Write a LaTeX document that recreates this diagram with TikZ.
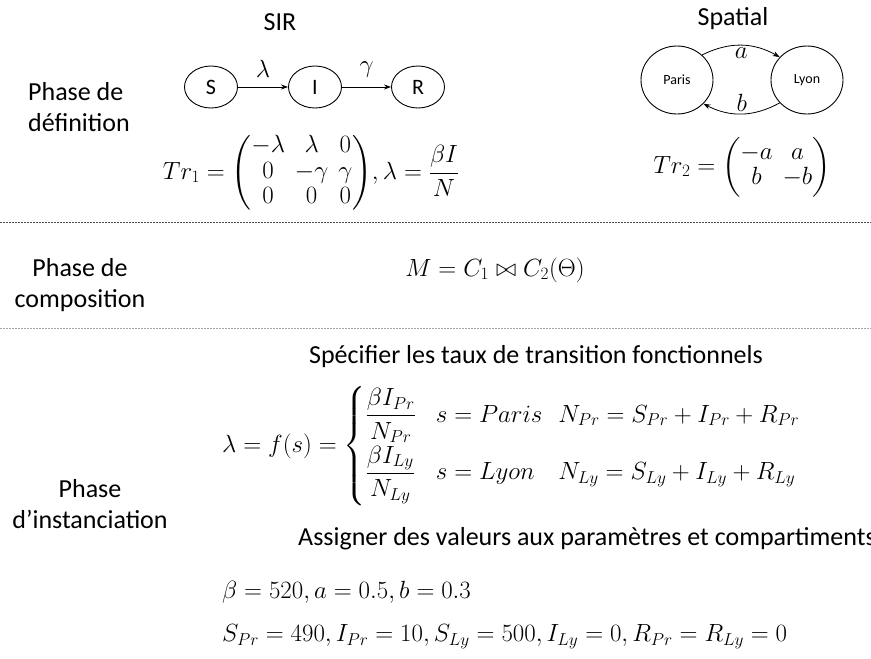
\documentclass[tikz,border=0pt]{standalone}
\usepackage{amsmath}
\usepackage{fontspec}
\setmainfont{Carlito}
\usetikzlibrary{arrows.meta,shapes.geometric}
\begin{document}
\begin{tikzpicture}[x=1pt,y=-1pt,
  txt/.style={font=\fontsize{26}{31}\selectfont, inner sep=0pt},
  ttl/.style={font=\fontsize{26}{31}\selectfont, inner sep=0pt},
  mth/.style={font=\fontsize{26}{25.5}\selectfont, inner sep=0pt},
  state/.style={ellipse, draw, line width=0.9pt, minimum width=53pt, minimum height=42pt, font=\fontsize{22}{26}\selectfont, inner sep=0pt},
  city/.style={ellipse, draw, line width=0.9pt, minimum width=72pt, minimum height=68pt, font=\fontsize{14}{16}\selectfont, inner sep=0pt},
  arr/.style={-{Stealth[length=7pt,width=5pt]}, line width=0.8pt},
  sep/.style={dash pattern=on 2pt off 1pt, line width=0.6pt}]
\useasboundingbox (0,0) rectangle (871,659);
% titles
\node[ttl] (sir) at (280,22) {SIR};
\node[ttl] (spatial) at (733,19) {Spatial};
% phase labels
\node[txt, anchor=west, align=left] (pdef) at (28,107) {Phase de\\définition};
\node[txt, align=center] (pcomp) at (80,285) {Phase de\\composition};
\node[txt, align=center] (pinst) at (90,504) {Phase\\d’instanciation};
% SIR chain
\node[state] (S) at (211,87) {S};
\node[state] (I) at (315,87) {I};
\node[state] (R) at (418,87) {R};
\draw[arr] (S) -- node[mth, above=9pt] (lam) {$\lambda$} (I);
\draw[arr] (I) -- node[mth, above=9pt] (gam) {$\gamma$} (R);
% spatial
\node[city] (paris) at (677,80) {Paris};
\node[city] (lyon) at (807,80) {Lyon};
\draw[arr] (paris.45) to[bend left=28] node[mth, below=2pt] (la) {$a$} (lyon.140);
\draw[arr] (lyon.220) to[bend left=28] node[mth, above=2pt] (lb) {$b$} (paris.318);
% matrices
\node[mth] (tr1) at (311,173) {$Tr_1=\begin{pmatrix}-\lambda & \lambda & 0\\ 0 & -\gamma & \gamma\\ 0 & 0 & 0\end{pmatrix}\!,\lambda=\dfrac{\beta I}{N}$};
\node[mth] (tr2) at (742,167) {$Tr_2=\begin{pmatrix}-a & a\\ b & -b\end{pmatrix}$};
% separators
\coordinate (s1l) at (0,222);
\coordinate (s1r) at (871,222);
\coordinate (s2l) at (0,328);
\coordinate (s2r) at (871,328);
\draw[sep, black!70] (s1l) -- (s1r);
\draw[sep, black!35] (s2l) -- (s2r);
% composition
\node[mth] (comp) at (495,270) {$M=C_1\bowtie C_2(\Theta)$};
% instanciation
\node[txt] (spec) at (536,357) {Spécifier les taux de transition fonctionnels};
\node[mth, anchor=west] (cases) at (222,446) {$\lambda=f(s)=\left\{\begin{array}{@{}l@{\hspace{20pt}}l@{\hspace{16pt}}l@{}}
\dfrac{\beta I_{Pr}}{N_{Pr}} & s=Paris & N_{Pr}=S_{Pr}+I_{Pr}+R_{Pr}\\[16pt]
\dfrac{\beta I_{Ly}}{N_{Ly}} & s=Lyon & N_{Ly}=S_{Ly}+I_{Ly}+R_{Ly}
\end{array}\right.$};
\node[txt, anchor=west] (assign) at (298,539) {Assigner des valeurs aux paramètres et compartiments};
\node[mth, anchor=west] (vals1) at (222,592) {$\beta=520, a=0.5, b=0.3$};
\node[mth, anchor=west] (vals2) at (222,637) {$S_{Pr}=490, I_{Pr}=10, S_{Ly}=500, I_{Ly}=0, R_{Pr}=R_{Ly}=0$};
\end{tikzpicture}
\end{document}
